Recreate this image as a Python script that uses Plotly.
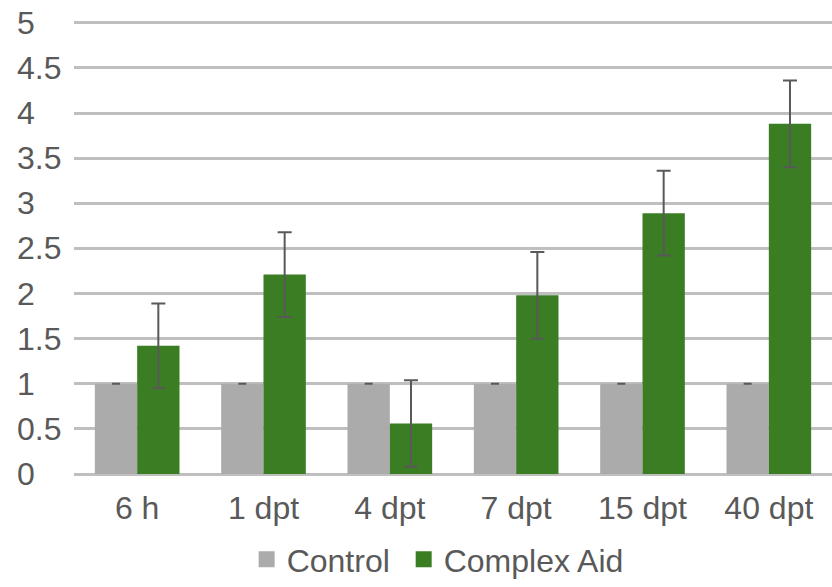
import plotly.graph_objects as go

categories = ["6 h", "1 dpt", "4 dpt", "7 dpt", "15 dpt", "40 dpt"]
control = [1, 1, 1, 1, 1, 1]
control_err = [0, 0, 0, 0, 0, 0]
complex_aid = [1.42, 2.21, 0.56, 1.98, 2.89, 3.88]
complex_err = [0.47, 0.47, 0.48, 0.48, 0.47, 0.48]
y_ticks = [0, 0.5, 1, 1.5, 2, 2.5, 3, 3.5, 4, 4.5, 5]
y_tick_labels = ["0", "0.5", "1", "1.5", "2", "2.5", "3", "3.5", "4", "4.5", "5"]
series_names = ["Control", "Complex Aid"]

FONT = "Liberation Sans, Arial, sans-serif"
TXT = "#595959"
GRAY = "#ABABAB"
GREEN = "#3B7D23"
FS = 32

fig = go.Figure()
fig.add_trace(go.Bar(
    x=categories, y=control, name=series_names[0], showlegend=False,
    marker=dict(color=GRAY, line=dict(width=0)),
    error_y=dict(type="data", array=control_err, visible=True,
                 color="#595959", thickness=2, width=4),
))
fig.add_trace(go.Bar(
    x=categories, y=complex_aid, name=series_names[1], showlegend=False,
    marker=dict(color=GREEN, line=dict(width=0)),
    error_y=dict(type="data", array=complex_err, visible=True,
                 color="#595959", thickness=2, width=7),
))
# legend entries with square symbols
for nm, col, pad in zip(series_names, [GRAY, GREEN], ["&nbsp;", ""]):
    fig.add_trace(go.Scatter(
        x=[None], y=[None], mode="markers", name=nm + pad,
        marker=dict(symbol="square", size=19, color=col),
    ))

annotations = [
    dict(x=0, xref="paper", y=v, yref="y", text=t, showarrow=False,
         xanchor="left", yanchor="middle", xshift=-59,
         font=dict(family=FONT, size=FS, color=TXT))
    for v, t in zip(y_ticks, y_tick_labels)
]

fig.update_layout(
    width=832, height=587,
    margin=dict(l=74, r=0, t=21, b=113, autoexpand=False),
    paper_bgcolor="white", plot_bgcolor="white",
    barmode="group", bargap=0.33, bargroupgap=0,
    font=dict(family=FONT, size=FS, color=TXT),
    xaxis=dict(showgrid=False, showline=False, ticks="",
               ticklabelstandoff=12,
               tickfont=dict(family=FONT, size=FS, color=TXT)),
    yaxis=dict(range=[0, 5.02], tickvals=y_ticks, showticklabels=False,
               showgrid=True, gridcolor="#BFBFBF", gridwidth=2.5,
               zeroline=True, zerolinecolor="#BFBFBF", zerolinewidth=2.5,
               showline=False, ticks=""),
    legend=dict(orientation="h", xref="container", yref="container",
                x=0.526, xanchor="center", y=-0.009, yanchor="bottom",
                font=dict(family=FONT, size=FS, color=TXT),
                itemwidth=30, tracegroupgap=0, itemsizing="trace"),
    annotations=annotations,
    showlegend=True,
)

fig.write_html("out.html", config={"displayModeBar": False})
with open("out.html", encoding="utf-8") as f:
    html = f.read()
html = html.replace("<body>", '<body style="margin:0;padding:0;overflow:hidden">', 1)
with open("out.html", "w", encoding="utf-8") as f:
    f.write(html)
